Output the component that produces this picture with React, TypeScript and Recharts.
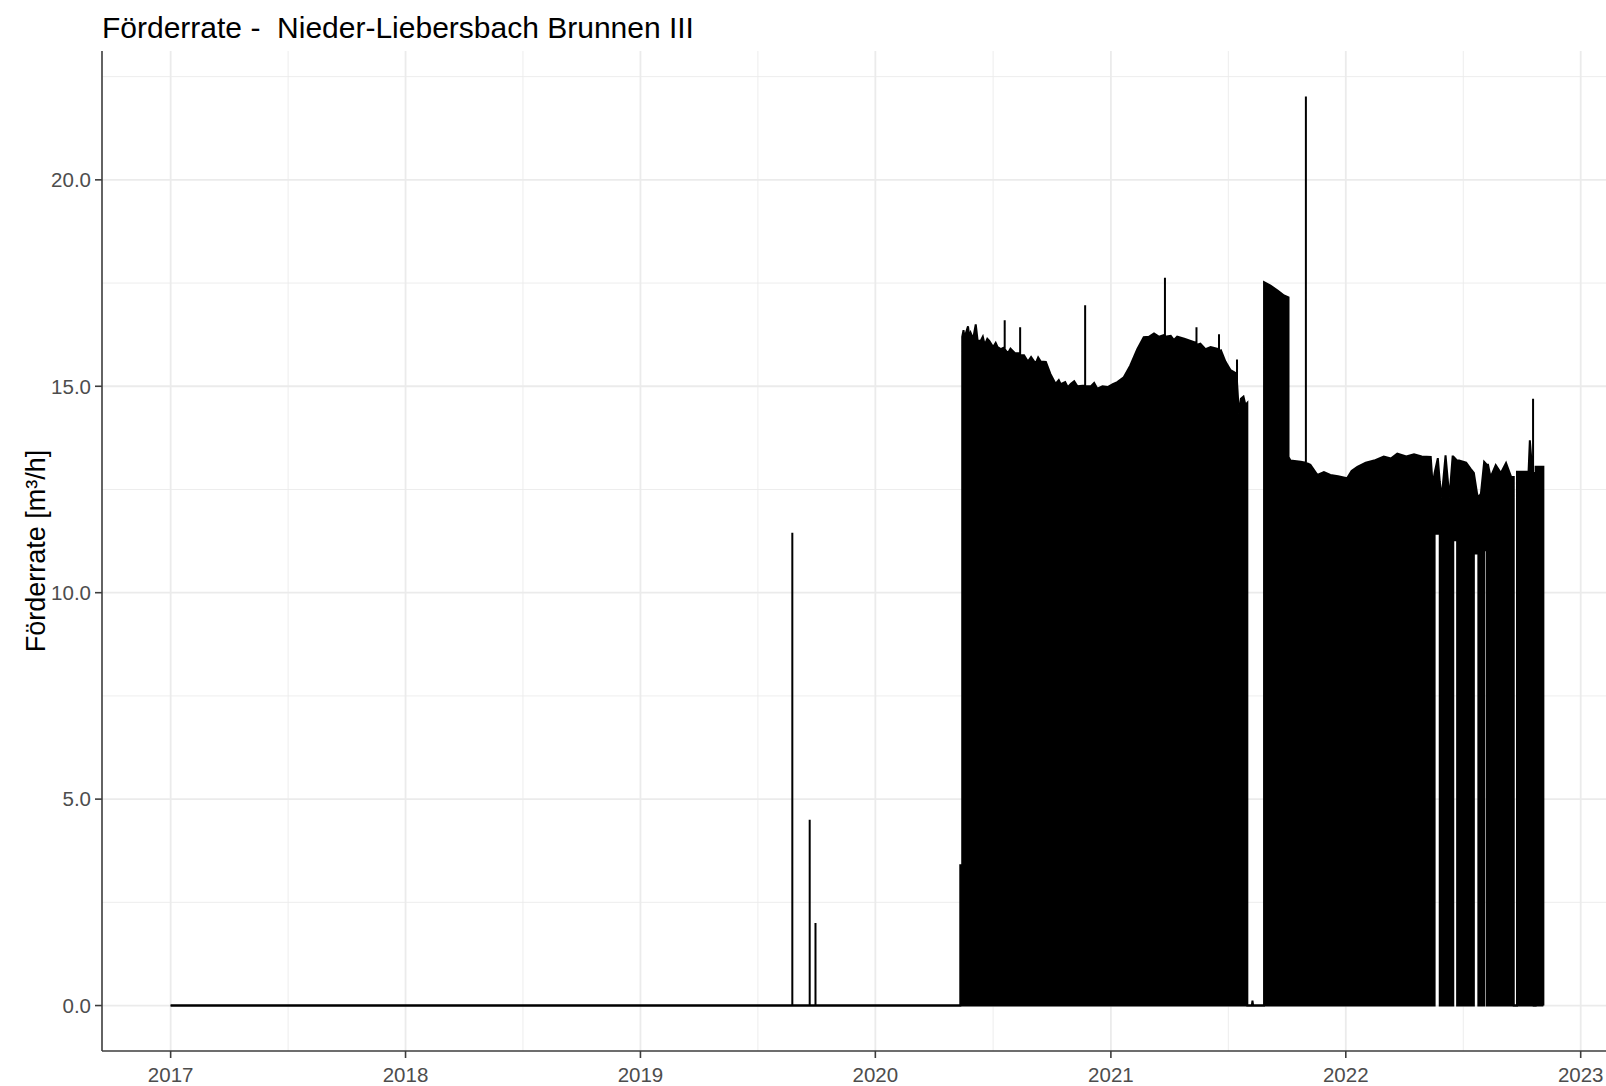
import { Area, AreaChart, CartesianGrid, XAxis, YAxis } from "recharts"

const FONT = "'Liberation Sans', Arial, sans-serif"
const INK = "#000000"
const AXIS = "#3d3d3d"
const TICK_TEXT = "#4d4d4d"
const GRID = "#ebebeb"

type Vertex = [date: string, upper: number, lower?: number]

// Outline of the pumping record: [date, upper value, lower value (default 0)]
const idleYears: Vertex[] = [
  ["2017-01-01", 0],
  ["2019-08-25", 0], ["2019-08-25", 11.45], ["2019-08-25", 0],
  ["2019-09-21", 0], ["2019-09-21", 4.5], ["2019-09-21", 0],
  ["2019-09-30", 0], ["2019-09-30", 2.0], ["2019-09-30", 0],
  ["2020-05-12", 0], ["2020-05-12", 3.4], ["2020-05-15", 3.4],
]

const season2020: Vertex[] = [
  ["2020-05-15", 16.2], ["2020-05-17", 16.36], ["2020-05-19", 16.15], ["2020-05-21", 16.3],
  ["2020-05-24", 16.45], ["2020-05-26", 16.2], ["2020-05-28", 16.3], ["2020-06-01", 16.15],
  ["2020-06-05", 16.5], ["2020-06-08", 16.1], ["2020-06-13", 16.11], ["2020-06-16", 16.2],
  ["2020-06-19", 16.0], ["2020-06-23", 16.15], ["2020-06-26", 16.1], ["2020-07-02", 15.95],
  ["2020-07-06", 16.05], ["2020-07-09", 15.95], ["2020-07-14", 15.9],
  ["2020-07-20", 15.95], ["2020-07-20", 16.6], ["2020-07-20", 15.9],
  ["2020-07-25", 15.8], ["2020-07-29", 15.91], ["2020-08-05", 15.8],
  ["2020-08-13", 15.8], ["2020-08-13", 16.43], ["2020-08-13", 15.75],
  ["2020-08-19", 15.75], ["2020-08-25", 15.6], ["2020-08-30", 15.71], ["2020-09-06", 15.55],
  ["2020-09-10", 15.7], ["2020-09-14", 15.6], ["2020-09-22", 15.59], ["2020-09-29", 15.3],
  ["2020-10-07", 15.06], ["2020-10-12", 15.15], ["2020-10-15", 15.05], ["2020-10-22", 15.1],
  ["2020-10-26", 14.98], ["2020-10-31", 15.06], ["2020-11-05", 15.12], ["2020-11-10", 15.0],
  ["2020-11-22", 15.02], ["2020-11-22", 16.96], ["2020-11-22", 15.0],
  ["2020-12-01", 15.0], ["2020-12-06", 15.08], ["2020-12-11", 14.94], ["2020-12-19", 15.0],
  ["2020-12-27", 14.98], ["2021-01-04", 15.05], ["2021-01-11", 15.1], ["2021-01-21", 15.22],
  ["2021-01-31", 15.5], ["2021-02-11", 15.9], ["2021-02-21", 16.19], ["2021-03-01", 16.2],
  ["2021-03-09", 16.28], ["2021-03-17", 16.2],
  ["2021-03-26", 16.25], ["2021-03-26", 17.63], ["2021-03-26", 16.2],
  ["2021-04-04", 16.22], ["2021-04-09", 16.12], ["2021-04-14", 16.2], ["2021-04-25", 16.15],
  ["2021-05-05", 16.1],
  ["2021-05-14", 16.05], ["2021-05-14", 16.43], ["2021-05-14", 16.0],
  ["2021-05-20", 16.03], ["2021-05-28", 15.9], ["2021-06-05", 15.95],
  ["2021-06-18", 15.9], ["2021-06-18", 16.26], ["2021-06-18", 15.85],
  ["2021-06-21", 15.87], ["2021-06-28", 15.6], ["2021-07-06", 15.39],
  ["2021-07-16", 15.3], ["2021-07-16", 15.65], ["2021-07-16", 15.1],
  ["2021-07-19", 14.34], ["2021-07-22", 14.7], ["2021-07-26", 14.75], ["2021-07-29", 14.55],
  ["2021-08-01", 14.6], ["2021-08-01", 0],
  ["2021-08-08", 0], ["2021-08-09", 0.12], ["2021-08-10", 0], ["2021-08-27", 0],
]

const season2021: Vertex[] = [
  ["2021-08-27", 17.52], ["2021-09-06", 17.44], ["2021-09-17", 17.32], ["2021-09-27", 17.2],
  ["2021-10-04", 17.15], ["2021-10-04", 13.29], ["2021-10-07", 13.2], ["2021-10-23", 13.17],
  ["2021-10-31", 13.15], ["2021-10-31", 22.02], ["2021-10-31", 13.15],
  ["2021-11-07", 13.1], ["2021-11-18", 12.85], ["2021-11-28", 12.92], ["2021-12-08", 12.85],
  ["2021-12-20", 12.82], ["2022-01-03", 12.77], ["2022-01-10", 12.95], ["2022-01-19", 13.05],
  ["2022-02-01", 13.15], ["2022-02-14", 13.2], ["2022-03-01", 13.3], ["2022-03-12", 13.25],
  ["2022-03-22", 13.37], ["2022-04-05", 13.3], ["2022-04-17", 13.35], ["2022-04-29", 13.3],
  ["2022-05-13", 13.29], ["2022-05-16", 12.6],
  ["2022-05-19", 12.9], ["2022-05-19", 12.9, 11.43], ["2022-05-24", 13.26, 11.43],
  ["2022-05-27", 12.7, 11.43], ["2022-05-27", 12.7],
  ["2022-05-30", 12.3], ["2022-06-05", 13.33], ["2022-06-11", 12.3], ["2022-06-16", 13.3],
  ["2022-06-17", 13.3], ["2022-06-17", 13.3, 11.27], ["2022-06-23", 13.2, 11.27], ["2022-06-23", 13.2],
  ["2022-06-26", 13.2], ["2022-07-07", 13.15], ["2022-07-14", 13.0],
  ["2022-07-19", 12.9], ["2022-07-19", 12.9, 10.95], ["2022-07-24", 12.4, 10.95],
  ["2022-07-26", 12.3, 10.95], ["2022-07-26", 12.3],
  ["2022-07-30", 12.4],
  ["2022-08-04", 13.17], ["2022-08-04", 13.17, 11.03], ["2022-08-08", 13.1, 11.03], ["2022-08-08", 13.1],
  ["2022-08-10", 13.1], ["2022-08-14", 12.8], ["2022-08-22", 13.09], ["2022-08-30", 12.9],
  ["2022-09-07", 13.14], ["2022-09-15", 12.8],
  ["2022-09-19", 12.8], ["2022-09-19", 0], ["2022-09-24", 0], ["2022-09-24", 12.93],
  ["2022-10-12", 12.93], ["2022-10-14", 13.69], ["2022-10-18", 12.9],
  ["2022-10-19", 12.9], ["2022-10-19", 14.7], ["2022-10-19", 12.9],
  ["2022-10-20", 12.9], ["2022-10-20", 0], ["2022-10-23", 0], ["2022-10-23", 13.05],
  ["2022-11-04", 13.05], ["2022-11-04", 0],
]

const yearTicks = ["2017", "2018", "2019", "2020", "2021", "2022", "2023"]
const rateTicks = [0, 5, 10, 15, 20]

const toTime = (d: string) => Date.parse(d)

const data = [...idleYears, ...season2020, ...season2021].map(([date, hi, lo = 0]) => ({
  t: toTime(date),
  rate: [lo, hi] as [number, number],
}))

// ggplot-style 5% expansion on both axes
const tMin = data[0].t
const tMax = data[data.length - 1].t
const tPad = (tMax - tMin) * 0.05
const rMax = Math.max(...data.map((d) => d.rate[1]))
const rPad = rMax * 0.05

const majorX = yearTicks.map((y) => toTime(`${y}-01-01`))
const minorX = majorX.map((t, i) => (i < majorX.length - 1 ? (t + majorX[i + 1]) / 2 : t + (t - majorX[i - 1]) / 2))
const minorY = rateTicks.map((v) => v + 2.5)

const tickStyle = { fill: TICK_TEXT, fontSize: 20.5, fontFamily: FONT }

export default function App() {
  return (
    <div
      style={{
        position: "fixed",
        left: 0,
        top: 0,
        width: 1606,
        height: 1086,
        overflow: "hidden",
        background: "#fff",
      }}
    >
      <svg width={1606} height={60} style={{ position: "absolute", left: 0, top: 0 }}>
        <text x={102} y={38} fontFamily={FONT} fontSize={30} fill={INK} style={{ whiteSpace: "pre" }}>
          {"Förderrate -  Nieder-Liebersbach Brunnen III"}
        </text>
      </svg>
      <div style={{ position: "absolute", left: 0, top: 0 }}>
        <AreaChart width={1640} height={1086} data={data} margin={{ top: 51, right: 28, bottom: 0, left: 0 }}>
          <CartesianGrid
            stroke={GRID}
            strokeWidth={0.9}
            verticalValues={minorX}
            horizontalValues={minorY}
          />
          <CartesianGrid
            stroke={GRID}
            strokeWidth={1.8}
            verticalValues={majorX}
            horizontalValues={rateTicks}
          />
          <XAxis
            dataKey="t"
            type="number"
            scale="time"
            domain={[tMin - tPad, tMax + tPad]}
            allowDataOverflow
            ticks={majorX}
            interval={0}
            tickFormatter={(t: number) => String(new Date(t).getUTCFullYear())}
            height={35}
            tickSize={7}
            tickMargin={9}
            tick={tickStyle}
            axisLine={{ stroke: AXIS, strokeWidth: 1.6 }}
            tickLine={{ stroke: AXIS, strokeWidth: 1.6 }}
          />
          <XAxis
            xAxisId="top"
            orientation="top"
            dataKey="t"
            type="number"
            domain={[tMin - tPad, tMax + tPad]}
            height={0}
            tick={false}
            tickLine={false}
            axisLine={{ stroke: AXIS, strokeWidth: 1.6 }}
          />
          <YAxis
            type="number"
            domain={[-rPad, rMax + rPad]}
            allowDataOverflow
            ticks={rateTicks}
            interval={0}
            tickFormatter={(v: number) => v.toFixed(1)}
            width={102}
            tickSize={7}
            tickMargin={4}
            tick={tickStyle}
            axisLine={{ stroke: AXIS, strokeWidth: 1.6 }}
            tickLine={{ stroke: AXIS, strokeWidth: 1.6 }}
            label={{
              content: ({ viewBox }: any) => {
                const cx = viewBox.x + 45
                const cy = viewBox.y + viewBox.height / 2
                return (
                  <text
                    x={cx}
                    y={cy}
                    transform={`rotate(-90 ${cx} ${cy})`}
                    textAnchor="middle"
                    fontFamily={FONT}
                    fontSize={27}
                    fill={INK}
                  >
                    Förderrate [m³/h]
                  </text>
                )
              },
            }}
          />
          <Area
            type="linear"
            dataKey="rate"
            stroke={INK}
            strokeWidth={2}
            fill={INK}
            fillOpacity={1}
            dot={false}
            activeDot={false}
            isAnimationActive={false}
          />
        </AreaChart>
      </div>
    </div>
  )
}
